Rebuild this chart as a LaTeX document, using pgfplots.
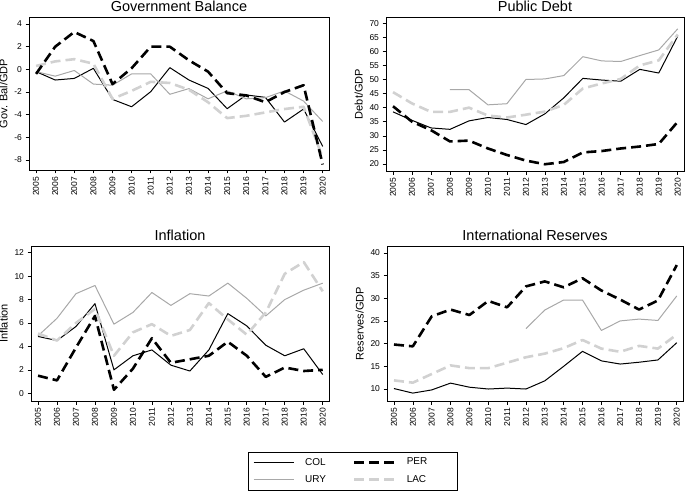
\documentclass[border=0pt]{standalone}
\usepackage{fontspec}
\setmainfont{Liberation Sans}
\usepackage{pgfplots}
\pgfplotsset{compat=1.18}
\definecolor{urygray}{gray}{0.66}
\definecolor{lacgray}{gray}{0.82}
\pgfplotsset{
 myax/.style={scale only axis, xmin=2004.63, xmax=2020.33, xtick={2005,...,2020},
  axis line style={line width=0.8pt}, tick style={black, line width=0.6pt},
  tick align=outside, major tick length=3.5pt, xtick pos=bottom, ytick pos=left,
  x tick label style={rotate=90, anchor=east, font=\fontsize{8.5}{10}\selectfont},
  y tick label style={font=\fontsize{8.5}{10}\selectfont},
  /pgf/number format/1000 sep={}, /pgf/number format/assume math mode=true,
  title style={font=\fontsize{14.5}{17}\selectfont, yshift=-4.5pt},
  ylabel style={font=\fontsize{11}{13}\selectfont},
  every axis plot/.append style={line join=round}},
 colS/.style={black, line width=1pt},
 uryS/.style={urygray, line width=1pt},
 perS/.style={black, line width=2.6pt, dash pattern=on 10pt off 5pt},
 lacS/.style={lacgray, line width=2.6pt, dash pattern=on 10pt off 5pt},
}
\begin{document}
\begin{tikzpicture}
\path[use as bounding box] (0,0) rectangle (685pt,491pt);
% Government Balance
\begin{axis}[myax, at={(29pt,474pt)}, anchor=north west, width=300pt, height=153pt,
  ymin=-8.88, ymax=4.62, ytick={-8,-6,...,4}, title={Government Balance}, ylabel={Gov. Bal/GDP}]
\addplot[colS] coordinates {(2005,-0.2)(2006,-0.94)(2007,-0.8)(2008,0.09)(2009,-2.65)(2010,-3.3)(2011,-1.97)(2012,0.15)(2013,-0.94)(2014,-1.68)(2015,-3.47)(2016,-2.26)(2017,-2.47)(2018,-4.65)(2019,-3.5)(2020,-6.8)};
\addplot[uryS] coordinates {(2005,-0.2)(2006,-0.6)(2007,-0.1)(2008,-1.3)(2009,-1.4)(2010,-0.4)(2011,-0.4)(2012,-2.2)(2013,-1.7)(2014,-2.6)(2015,-1.9)(2016,-2.6)(2017,-2.5)(2018,-1.9)(2019,-2.8)(2020,-4.6)};
\addplot[lacS] coordinates {(2005,0.3)(2006,0.7)(2007,0.9)(2008,0.5)(2009,-2.6)(2010,-1.9)(2011,-1.1)(2012,-1.2)(2013,-1.8)(2014,-2.9)(2015,-4.3)(2016,-4.1)(2017,-3.8)(2018,-3.5)(2019,-3.3)(2020,-7.8)};
\addplot[perS] coordinates {(2005,-0.4)(2006,2.0)(2007,3.3)(2008,2.5)(2009,-1.3)(2010,0.1)(2011,2.0)(2012,2.0)(2013,0.8)(2014,-0.2)(2015,-2.1)(2016,-2.3)(2017,-2.9)(2018,-2.0)(2019,-1.4)(2020,-8.4)};
\end{axis}
% Public Debt
\begin{axis}[myax, at={(386pt,474pt)}, anchor=north west, width=298pt, height=154pt,
  ymin=17.5, ymax=72.2, ytick={20,25,...,70}, title={Public Debt}, ylabel={Debt/GDP}]
\addplot[colS] coordinates {(2005,38.5)(2006,35.5)(2007,32.8)(2008,32.3)(2009,35.3)(2010,36.5)(2011,35.8)(2012,34.0)(2013,37.8)(2014,43.5)(2015,50.4)(2016,49.8)(2017,49.4)(2018,53.6)(2019,52.3)(2020,65.4)};
\addplot[uryS] coordinates {(2008,46.4)(2009,46.4)(2010,41.0)(2011,41.4)(2012,50.0)(2013,50.2)(2014,51.4)(2015,58.1)(2016,56.6)(2017,56.4)(2018,58.5)(2019,60.5)(2020,68.0)};
\addplot[lacS] coordinates {(2005,45.5)(2006,41.5)(2007,38.5)(2008,38.5)(2009,40.0)(2010,37.2)(2011,36.5)(2012,37.5)(2013,38.6)(2014,41.0)(2015,46.8)(2016,48.6)(2017,50.2)(2018,55.0)(2019,56.8)(2020,66.0)};
\addplot[perS] coordinates {(2005,40.5)(2006,35.0)(2007,32.0)(2008,28.0)(2009,28.3)(2010,25.5)(2011,23.2)(2012,21.2)(2013,19.9)(2014,20.7)(2015,24.1)(2016,24.6)(2017,25.5)(2018,26.2)(2019,27.1)(2020,35.0)};
\end{axis}
% Inflation
\begin{axis}[myax, at={(31pt,245pt)}, anchor=north west, width=298pt, height=155pt,
  ymin=-0.66, ymax=12.57, ytick={0,2,...,12}, title={Inflation}, ylabel={Inflation},
  legend columns=2, legend cell align=left,
  legend style={at={(1.0805,-0.4516)}, anchor=center, draw=black, line width=0.8pt,
    font=\fontsize{10}{12}\selectfont, row sep=5pt, inner xsep=5pt, inner ysep=4pt,
    /tikz/every odd column/.append style={column sep=9pt},
    /tikz/every even column/.append style={column sep=25pt}},
  legend image code/.code={\draw[#1] (0pt,0pt) -- (40pt,0pt);}]
\addplot[colS] coordinates {(2005,4.85)(2006,4.5)(2007,5.7)(2008,7.65)(2009,2.0)(2010,3.2)(2011,3.7)(2012,2.4)(2013,1.9)(2014,3.7)(2015,6.8)(2016,5.75)(2017,4.1)(2018,3.2)(2019,3.8)(2020,1.6)};
\addlegendentry{COL}
\addplot[perS] coordinates {(2005,1.5)(2006,1.1)(2007,3.9)(2008,6.6)(2009,0.3)(2010,2.1)(2011,4.7)(2012,2.6)(2013,2.9)(2014,3.2)(2015,4.4)(2016,3.2)(2017,1.4)(2018,2.2)(2019,1.9)(2020,2.0)};
\addlegendentry{\makebox[44pt][l]{PER}}
\addplot[uryS] coordinates {(2005,4.9)(2006,6.4)(2007,8.5)(2008,9.2)(2009,5.9)(2010,6.9)(2011,8.6)(2012,7.5)(2013,8.5)(2014,8.3)(2015,9.4)(2016,8.1)(2017,6.6)(2018,8.0)(2019,8.8)(2020,9.4)};
\addlegendentry{URY}
\addplot[lacS] coordinates {(2005,5.1)(2006,4.5)(2007,6.0)(2008,7.2)(2009,3.2)(2010,5.2)(2011,5.9)(2012,4.9)(2013,5.4)(2014,7.7)(2015,6.3)(2016,5.0)(2017,6.9)(2018,10.2)(2019,11.2)(2020,8.7)};
\addlegendentry{\makebox[44pt][l]{LAC}}
\end{axis}
% International Reserves
\begin{axis}[myax, at={(387pt,245pt)}, anchor=north west, width=296pt, height=155pt,
  ymin=7.36, ymax=41.5, ytick={10,15,...,40}, title={International Reserves}, ylabel={Reserves/GDP}]
\addplot[colS] coordinates {(2005,10.1)(2006,9.1)(2007,9.8)(2008,11.3)(2009,10.4)(2010,10.0)(2011,10.2)(2012,10.0)(2013,11.8)(2014,15.0)(2015,18.3)(2016,16.2)(2017,15.5)(2018,15.9)(2019,16.4)(2020,20.2)};
\addplot[uryS] coordinates {(2012,23.3)(2013,27.4)(2014,29.6)(2015,29.6)(2016,22.9)(2017,25.0)(2018,25.4)(2019,25.1)(2020,30.5)};
\addplot[lacS] coordinates {(2005,11.9)(2006,11.4)(2007,13.3)(2008,15.2)(2009,14.6)(2010,14.6)(2011,15.8)(2012,17.0)(2013,17.8)(2014,19.0)(2015,20.8)(2016,18.9)(2017,18.2)(2018,19.5)(2019,18.9)(2020,22.0)};
\addplot[perS] coordinates {(2005,19.8)(2006,19.4)(2007,26.0)(2008,27.5)(2009,26.3)(2010,29.4)(2011,28.0)(2012,32.6)(2013,33.7)(2014,32.4)(2015,34.4)(2016,31.7)(2017,29.7)(2018,27.5)(2019,29.5)(2020,37.3)};
\end{axis}
\end{tikzpicture}
\end{document}
